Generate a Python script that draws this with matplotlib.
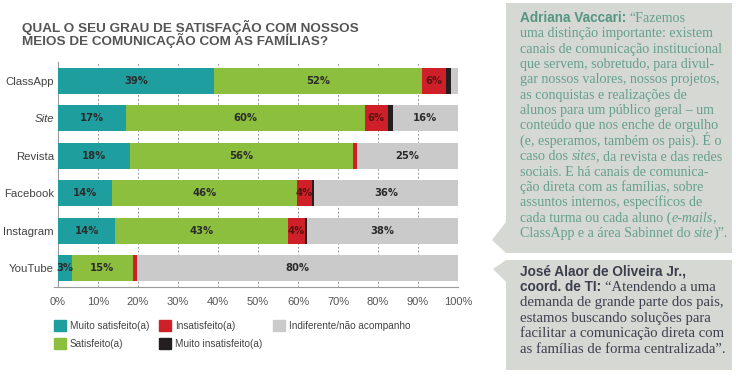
import matplotlib
matplotlib.use('Agg')
import matplotlib.pyplot as plt
from matplotlib.patches import Polygon, Patch

# Dados (percentuais)
canais = ['ClassApp', 'Site', 'Revista', 'Facebook', 'Instagram', 'YouTube']
muito_satisfeito = [38.9, 17.0, 18.0, 13.6, 14.3, 3.4]
satisfeito = [52.1, 59.7, 55.7, 46.2, 43.1, 15.4]
insatisfeito = [6.0, 5.7, 1.0, 3.6, 4.4, 1.0]
muito_insatisfeito = [1.2, 1.3, 0.0, 0.7, 0.5, 0.0]
indiferente = [1.8, 16.3, 25.3, 35.9, 37.7, 80.2]
categorias = ['Muito satisfeito(a)', 'Satisfeito(a)', 'Insatisfeito(a)',
              'Muito insatisfeito(a)', 'Indiferente/não acompanho']
eixo_x = [0, 10, 20, 30, 40, 50, 60, 70, 80, 90, 100]

titulo = ['QUAL O SEU GRAU DE SATISFAÇÃO COM NOSSOS',
          'MEIOS DE COMUNICAÇÃO COM AS FAMÍLIAS?']

# Depoimentos: cada linha é uma lista de (texto, estilo)
depoimento1 = [
    [('Adriana Vaccari:', 'nome1'), (' “Fazemos', 'corpo1')],
    [('uma distinção importante: existem', 'corpo1')],
    [('canais de comunicação institucional', 'corpo1')],
    [('que servem, sobretudo, para divul-', 'corpo1')],
    [('gar nossos valores, nossos projetos,', 'corpo1')],
    [('as conquistas e realizações de', 'corpo1')],
    [('alunos para um público geral – um', 'corpo1')],
    [('conteúdo que nos enche de orgulho', 'corpo1')],
    [('(e, esperamos, também os pais). É o', 'corpo1')],
    [('caso dos ', 'corpo1'), ('sites', 'ital1'), (', da revista e das redes', 'corpo1')],
    [('sociais. E há canais de comunica-', 'corpo1')],
    [('ção direta com as famílias, sobre', 'corpo1')],
    [('assuntos internos, específicos de', 'corpo1')],
    [('cada turma ou cada aluno (', 'corpo1'), ('e-mails', 'ital1'), (',', 'corpo1')],
    [('ClassApp e a área Sabinnet do ', 'corpo1'), ('site', 'ital1'), (')”.', 'corpo1')],
]
depoimento2 = [
    [('José Alaor de Oliveira Jr.,', 'nome2')],
    [('coord. de TI:', 'nome2'), (' “Atendendo a uma', 'corpo2')],
    [('demanda de grande parte dos pais,', 'corpo2')],
    [('estamos buscando soluções para', 'corpo2')],
    [('facilitar a comunicação direta com', 'corpo2')],
    [('as famílias de forma centralizada”.', 'corpo2')],
]

cores = ['#1f9e9f', '#8dbf3e', '#cf2029', '#231f20', '#cacaca']
series = [muito_satisfeito, satisfeito, insatisfeito, muito_insatisfeito, indiferente]

fig = plt.figure(figsize=(7.36, 3.77), dpi=100)

# Camada de fundo em pixels (0..736, 0..377 de cima para baixo)
ov = fig.add_axes([0, 0, 1, 1])
ov.set_xlim(0, 736)
ov.set_ylim(377, 0)
ov.axis('off')

# Gráfico de barras
ax = fig.add_axes([58 / 736, 1 - 287 / 377, 400 / 736, 225 / 377])
ax.set_zorder(2)
ax.patch.set_alpha(0)
y = list(range(len(canais)))
esq = [0.0] * len(canais)
for vals, cor, nome in zip(series, cores, categorias):
    ax.barh(y, vals, left=esq, height=0.7, color=cor, label=nome, zorder=3)
    for i, v in enumerate(vals):
        if v >= 3 and cor != '#cacaca' or (cor == '#cacaca' and v >= 10):
            tc = '#5a1212' if cor == '#cf2029' else '#2b2b2b'
            ax.text(esq[i] + v / 2, i, f'{v:.0f}%', ha='center', va='center',
                    fontsize=7.2, fontweight='bold', color=tc, zorder=4)
    esq = [a + b for a, b in zip(esq, vals)]

ax.set_xlim(0, 100)
ax.set_ylim(5.5, -0.5)
ax.set_yticks(y)
ax.set_yticklabels(canais, fontsize=8.2, color='#444444', family='Liberation Sans')
ax.get_yticklabels()[1].set_fontstyle('italic')
ax.set_xticks(eixo_x)
ax.set_xticklabels([f'{t}%' for t in eixo_x], fontsize=8, color='#555555',
                   family='Liberation Sans')
ax.tick_params(length=0, pad=3)
ax.tick_params(axis='x', pad=7)
for t in eixo_x[1:-1]:
    ax.axvline(t, color='#9a9a9a', lw=0.7, ls=(0, (2, 2)), zorder=1)
ax.axvline(100, color='#c8c8c8', lw=0.8, zorder=1)
for s in ['top', 'right']:
    ax.spines[s].set_visible(False)
for s in ['left', 'bottom']:
    ax.spines[s].set_color('#9a9a9a')
    ax.spines[s].set_linewidth(0.8)
ax.spines['bottom'].set_bounds(-1, 100)

handles = [Patch(color=c) for c in cores]
fig.legend(handles, categorias, ncol=3, loc='upper left',
           bbox_to_anchor=(54 / 736, 1 - 320 / 377), frameon=False,
           handlelength=1.2, handleheight=1.3, handletextpad=0.4,
           columnspacing=1.0, labelspacing=0.7, borderpad=0, borderaxespad=0,
           labelcolor='#444444', prop={'family': 'Liberation Sans', 'size': 7.2})

# Título
for k, linha in enumerate(titulo):
    ov.text(22, 32 + k * 13.5, linha, fontsize=9.7, fontweight='bold',
            color='#555555', family='Liberation Sans', va='baseline')

# Caixas dos depoimentos
fundo = '#d6d8d4'
ov.add_patch(Polygon([(506, 3), (732, 3), (732, 253), (506, 253), (492, 240), (506, 222)],
                     closed=True, fc=fundo, ec='none'))
ov.add_patch(Polygon([(506, 260), (732, 260), (732, 370), (506, 370), (506, 282),
                      (493, 269)], closed=True, fc=fundo, ec='none'))

estilos = {
    'nome1': dict(family='Liberation Sans', fontweight='bold', fontsize=9.8,
                  color='#559683'),
    'nome2': dict(family='Liberation Sans', fontweight='bold', fontsize=9.8,
                  color='#3b3f4c'),
    'corpo1': dict(family='Liberation Serif', fontsize=10.1, color='#64a08d'),
    'ital1': dict(family='Liberation Serif', fontstyle='italic', fontsize=10.1,
                  color='#64a08d'),
    'corpo2': dict(family='Liberation Serif', fontsize=10.6, color='#3e4250'),
}
renderer = fig.canvas.get_renderer()


def largura(txt, est):
    # avanço do texto incluindo espaços finais (mede com um 'x' extra)
    a = ov.text(0, 0, txt + 'x', **estilos[est])
    b = ov.text(0, 0, 'x', **estilos[est])
    w = a.get_window_extent(renderer).width - b.get_window_extent(renderer).width
    a.remove()
    b.remove()
    return w


def escrever(linhas, x0, y0, passo):
    for k, partes in enumerate(linhas):
        x = x0
        for txt, est in partes:
            lead = len(txt) - len(txt.lstrip(' '))
            if lead:
                x += largura(' ' * lead, est)
                txt = txt.lstrip(' ')
            ov.text(x, y0 + k * passo, txt, va='baseline', **estilos[est])
            x += largura(txt, est)


escrever(depoimento1, 520, 22, 15.35)
escrever(depoimento2, 520, 275, 15.6)

fig.savefig('out.png', dpi=100)
